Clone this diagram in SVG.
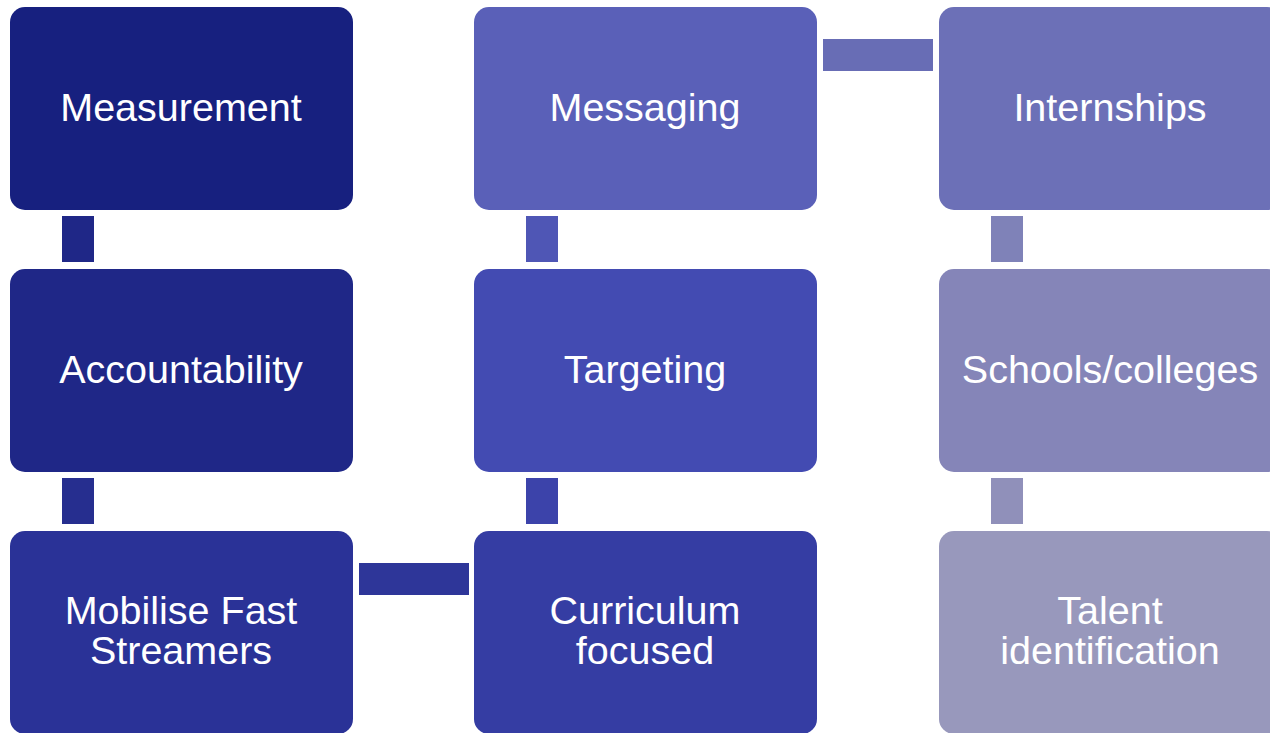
<svg xmlns="http://www.w3.org/2000/svg" width="1270" height="733" viewBox="0 0 1270 733">
<style>
.box{stroke:none}
.t{font-family:"Liberation Sans",Arial,sans-serif;font-size:39.5px;fill:#ffffff;text-anchor:middle}
</style>
<rect width="1270" height="733" fill="#ffffff"/>
<g id="connectors">
<rect x="62" y="216" width="32" height="46" fill="#1F2787"/>
<rect x="62" y="478" width="32" height="46" fill="#262E8F"/>
<rect x="359" y="563" width="110" height="32" fill="#2E3699"/>
<rect x="526" y="478" width="32" height="46" fill="#3C43AA"/>
<rect x="526" y="216" width="32" height="46" fill="#4F56B5"/>
<rect x="823" y="39" width="110" height="32" fill="#686DB5"/>
<rect x="991" y="216" width="32" height="46" fill="#7F82B8"/>
<rect x="991" y="478" width="32" height="46" fill="#9090BA"/>
</g>
<g id="measurement">
<rect class="box" x="10" y="7" width="343" height="203" rx="15" fill="#17207F"/>
<text class="t" x="181" y="121">Measurement</text>
</g>
<g id="accountability">
<rect class="box" x="10" y="269" width="343" height="203" rx="15" fill="#1F2787"/>
<text class="t" x="181" y="383">Accountability</text>
</g>
<g id="mobilise">
<rect class="box" x="10" y="531" width="343" height="203" rx="15" fill="#2A3297"/>
<text class="t" x="181" y="624">Mobilise Fast</text>
<text class="t" x="181" y="664">Streamers</text>
</g>
<g id="curriculum">
<rect class="box" x="474" y="531" width="343" height="203" rx="15" fill="#353DA3"/>
<text class="t" x="645" y="624">Curriculum</text>
<text class="t" x="645" y="664">focused</text>
</g>
<g id="targeting">
<rect class="box" x="474" y="269" width="343" height="203" rx="15" fill="#434BB2"/>
<text class="t" x="645" y="383">Targeting</text>
</g>
<g id="messaging">
<rect class="box" x="474" y="7" width="343" height="203" rx="15" fill="#5A60B8"/>
<text class="t" x="645" y="121">Messaging</text>
</g>
<g id="internships">
<rect class="box" x="939" y="7" width="343" height="203" rx="15" fill="#6C70B7"/>
<text class="t" x="1110" y="121">Internships</text>
</g>
<g id="schools">
<rect class="box" x="939" y="269" width="343" height="203" rx="15" fill="#8585B8"/>
<text class="t" x="1110" y="383">Schools/colleges</text>
</g>
<g id="talent">
<rect class="box" x="939" y="531" width="343" height="203" rx="15" fill="#9898BC"/>
<text class="t" x="1110" y="624">Talent</text>
<text class="t" x="1110" y="664">identification</text>
</g>
</svg>
